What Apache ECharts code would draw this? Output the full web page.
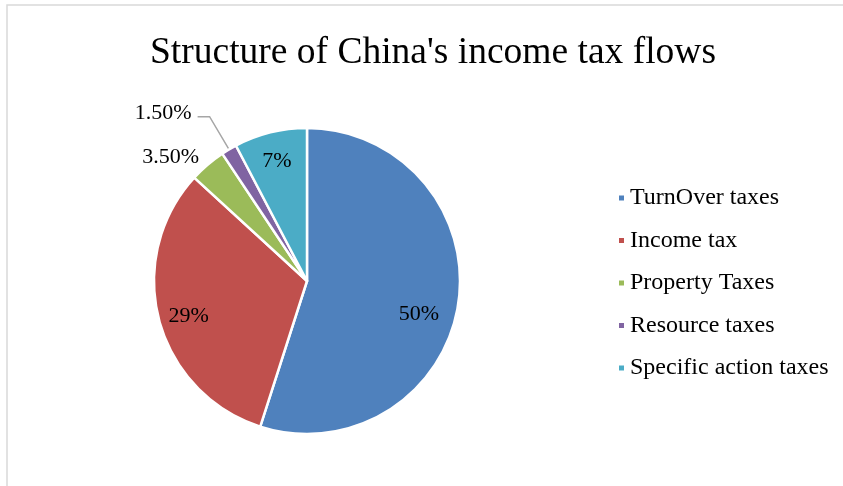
<!DOCTYPE html>
<html><head><meta charset="utf-8">
<script src="https://cdn.jsdelivr.net/npm/echarts@6/dist/echarts.min.js"></script>
<style>html,body{margin:0;padding:0;background:#fff}#c{width:843px;height:486px}</style>
</head><body><div id="c"></div>
<script>
const categories = ['TurnOver taxes', 'Income tax', 'Property Taxes', 'Resource taxes', 'Specific action taxes'];
const values = [50, 29, 3.5, 1.5, 7];
const labelTexts = ['50%', '29%', '3.50%', '1.50%', '7%'];
const colors = ['#4f81bd', '#c0504d', '#9bbb59', '#8064a2', '#4bacc6'];
const insideIdx = [0, 1, 4];

const FONT = '"Liberation Serif", "Times New Roman", serif';
const center = [307, 281];
const R = 153;

const chart = echarts.init(document.getElementById('c'));

const mainData = categories.map((n, i) => {
  const item = { name: n, value: values[i], itemStyle: { color: colors[i] } };
  if (i === 2) {
    item.label = { show: true, position: 'outside', formatter: labelTexts[i], distanceToLabelLine: 2 };
    item.labelLine = { show: false, length: 10, length2: 0 };
  } else if (i === 3) {
    item.label = { show: true, position: 'outside', formatter: labelTexts[i], distanceToLabelLine: 6, offset: [0, -3] };
    item.labelLine = { show: true, length: 38, length2: 12, lineStyle: { color: '#a6a6a6', width: 1.5 } };
  } else {
    item.label = { show: false };
    item.labelLine = { show: false };
  }
  return item;
});

const insideOffsets = { 0: [-12, 14], 1: [3, 3], 4: [0, 2] };
const overlayData = categories.map((n, i) => ({
  name: n, value: values[i],
  label: { show: insideIdx.includes(i), formatter: labelTexts[i], offset: insideOffsets[i] || [0, 0] }
}));

chart.setOption({
  animation: false,
  graphic: [{
    type: 'rect', shape: { x: 7, y: 5, width: 900, height: 600 },
    style: { fill: 'none', stroke: '#d9d9d9', lineWidth: 1.5 }, silent: true, z: -1
  }],
  title: {
    text: "Structure of China's income tax flows",
    left: 428, top: 29, textAlign: 'center',
    textStyle: { fontFamily: FONT, fontSize: 37.5, fontWeight: 'normal', color: '#000' }
  },
  legend: {
    orient: 'vertical', left: 612, top: 181,
    icon: 'rect', itemWidth: 7, itemHeight: 7, itemGap: 18.5,
    data: categories.map((n, i) => ({ name: n, itemStyle: { color: colors[i] } })),
    textStyle: { fontFamily: FONT, fontSize: 24, lineHeight: 24, color: '#000' }
  },
  series: [{
    type: 'pie', center: center, radius: [0, R], startAngle: 90, clockwise: true,
    avoidLabelOverlap: false,
    itemStyle: { borderColor: '#fff', borderWidth: 2.5 },
    label: { fontFamily: FONT, fontSize: 22, color: '#000' },
    emphasis: { disabled: true },
    data: mainData
  }, {
    type: 'pie', center: center, radius: [92, R], startAngle: 90, clockwise: true,
    avoidLabelOverlap: false, silent: true, legendHoverLink: false,
    itemStyle: { color: 'rgba(0,0,0,0)', borderWidth: 0 },
    label: { position: 'inside', fontFamily: FONT, fontSize: 22, color: '#000' },
    labelLine: { show: false },
    emphasis: { disabled: true },
    data: overlayData
  }]
});
</script></body></html>
